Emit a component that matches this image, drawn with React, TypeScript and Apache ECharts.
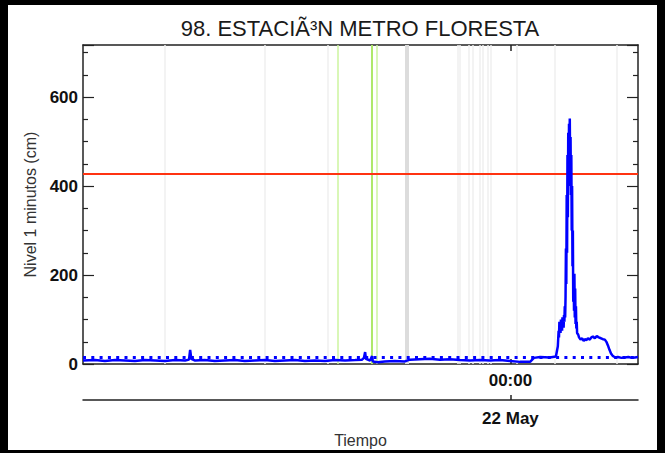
import React, { useEffect, useRef } from 'react';
import * as echarts from 'echarts';

const stationTitle = '98. ESTACIÃ³N METRO FLORESTA';
const yAxisTitle = 'Nivel 1 minutos (cm)';
const xAxisTitle = 'Tiempo';
const monthNames = ['Jan', 'Feb', 'Mar', 'Apr', 'May', 'Jun', 'Jul', 'Aug', 'Sep', 'Oct', 'Nov', 'Dec'];

// reference instant: 22 May 00:00 (all readings are minutes relative to it)
const referenceMidnight = Date.UTC(2024, 4, 22, 0, 0);
const windowMinutes = [-1109, 331];
const labelMinutes = [0];

const yMin = 0;
const yMax = 717;
const yStep = 200;
const alertLevel = 428.5;
const normalLevel = 16;

// [minute, level cm]
const baselineReadings: [number, number][] = [
  [-1109, 8], [-1078, 9], [-1052, 7], [-1026, 9], [-1000, 8], [-974, 7], [-948, 9], [-922, 8],
  [-896, 7], [-870, 9], [-844, 8], [-834, 10], [-831, 32], [-828, 12], [-818, 8], [-793, 9],
  [-767, 7], [-741, 8], [-715, 9], [-689, 7], [-663, 8], [-637, 9], [-611, 7], [-585, 8],
  [-559, 9], [-533, 7], [-507, 8], [-481, 7], [-455, 9], [-429, 8], [-403, 9], [-385, 10],
  [-380, 14], [-377, 27], [-375, 12], [-364, 8], [-359, 18], [-357, 6], [-344, 4], [-326, 6],
  [-300, 7], [-274, 6], [-261, 10], [-235, 11], [-209, 12], [-183, 10], [-157, 11], [-131, 9],
  [-105, 8], [-79, 9], [-53, 8], [-27, 9], [-1, 7], [25, 5], [51, 5], [61, 14], [77, 16],
  [102, 15], [118, 17],
];

const stormReadings: [number, number][] = [
  [123, 40], [125, 75], [126, 60], [127, 95], [128, 78], [129, 88], [130, 70], [131, 100],
  [132, 80], [133, 92], [134, 75], [135, 105], [136, 85], [137, 98], [138, 82], [139, 110],
  [140, 95], [141, 130], [142, 105], [143, 150], [144, 260], [145, 180], [146, 380], [147, 250],
  [148, 470], [149, 330], [150, 520], [151, 400], [152, 540], [153, 450], [154, 552], [155, 430],
  [156, 510], [157, 380], [158, 470], [159, 300], [160, 400], [161, 220], [162, 300], [163, 140],
  [164, 200], [165, 120], [166, 203], [167, 105], [168, 170], [169, 90], [170, 130], [171, 80],
  [172, 95], [173, 70], [176, 66], [178, 60], [182, 55], [186, 58], [190, 52], [193, 56],
  [197, 54], [201, 58], [206, 55], [210, 60], [214, 62], [219, 58], [224, 63], [229, 60],
  [235, 58], [240, 56], [245, 55], [249, 50], [253, 42], [257, 32], [261, 24], [265, 19],
  [268, 17], [272, 15], [279, 16], [288, 14], [297, 15], [306, 16], [315, 14], [323, 15],
  [331, 16],
];

const greyEventMinutes = [-898, -637, -474, -137, -131, -108, -97, -80, -73, -58, -51, 16, 115, 276];
const greenEventMinutes = [-447, -360, -347];
const darkEventMinutes = [-270];

const toTime = (m: number) => referenceMidnight + m * 60000;
const pad2 = (n: number) => String(n).padStart(2, '0');
const fmtClock = (m: number) => {
  const d = new Date(toTime(m));
  return pad2(d.getUTCHours()) + ':' + pad2(d.getUTCMinutes());
};
const fmtDay = (m: number) => {
  const d = new Date(toTime(m));
  return d.getUTCDate() + ' ' + monthNames[d.getUTCMonth()];
};

export default function App() {
  const ref = useRef<HTMLDivElement>(null);
  useEffect(() => {
    document.body.style.margin = '0';
    if (!ref.current) return;
    const chart = echarts.init(ref.current, undefined, { renderer: 'svg' });
    const font = 'Liberation Sans';
    const axisColor = '#222';
    const levelData = [...baselineReadings, ...stormReadings];

    const eventLines = [
      ...greyEventMinutes.map((m) => ({ xAxis: m, lineStyle: { color: '#efefef', width: 1.5, type: 'solid' } })),
      ...darkEventMinutes.map((m) => ({ xAxis: m, lineStyle: { color: '#dcdcdc', width: 4, type: 'solid' } })),
      ...greenEventMinutes.map((m, i) => ({
        xAxis: m,
        lineStyle: { color: i === 1 ? '#aee86a' : '#cdf59f', width: i === 1 ? 2 : 1.5, type: 'solid' },
      })),
    ];

    const baseX = {
      type: 'value',
      min: windowMinutes[0],
      max: windowMinutes[1],
      splitLine: { show: false },
      axisLine: { show: true, onZero: false, lineStyle: { color: axisColor, width: 1.5 } },
    };
    const baseY = {
      type: 'value',
      min: yMin,
      max: yMax,
      interval: yStep,
      splitLine: { show: false },
      axisLine: { show: true, onZero: false, lineStyle: { color: axisColor, width: 1.5 } },
      axisTick: { show: true, inside: true, length: 11, lineStyle: { color: axisColor, width: 1.2 } },
      minorTick: { show: true, splitNumber: 4, length: 5, lineStyle: { color: axisColor, width: 1.2 } },
    };
    const tickLabel = { fontSize: 17, color: '#111', fontFamily: font, fontWeight: 'bold' };

    chart.setOption({
      animation: false,
      backgroundColor: '#ffffff',
      grid: { left: 83, right: 27, top: 45, bottom: 86, containLabel: false },
      xAxis: [
        {
          ...baseX,
          position: 'bottom',
          axisTick: { show: true, inside: true, length: 5, customValues: labelMinutes, lineStyle: { color: axisColor, width: 1.5 } },
          axisLabel: { show: true, customValues: labelMinutes, formatter: fmtClock, ...tickLabel, margin: 8 },
        },
        {
          ...baseX,
          position: 'top',
          axisTick: { show: true, inside: true, length: 6, customValues: labelMinutes, lineStyle: { color: axisColor, width: 1.5 } },
          axisLabel: { show: false },
        },
        {
          ...baseX,
          position: 'bottom',
          offset: 36,
          axisTick: { show: true, inside: true, length: 5, customValues: labelMinutes, lineStyle: { color: axisColor, width: 1.5 } },
          axisLabel: { show: true, customValues: labelMinutes, formatter: fmtDay, ...tickLabel, margin: 10 },
          name: xAxisTitle,
          nameLocation: 'middle',
          nameGap: 27,
          nameTextStyle: { fontSize: 16, color: '#333', fontFamily: font },
        },
      ],
      yAxis: [
        {
          ...baseY,
          position: 'left',
          axisLabel: { show: true, ...tickLabel, margin: 5, showMaxLabel: false },
          name: yAxisTitle,
          nameLocation: 'middle',
          nameGap: 45,
          nameTextStyle: { fontSize: 16, color: '#333', fontFamily: font },
        },
        {
          ...baseY,
          position: 'right',
          axisLabel: { show: false },
        },
      ],
      series: [
        {
          type: 'line',
          data: [],
          silent: true,
          markLine: { symbol: ['none', 'none'], silent: true, label: { show: false }, data: eventLines },
        },
        {
          type: 'line',
          data: [],
          silent: true,
          markLine: {
            symbol: ['none', 'none'],
            silent: true,
            label: { show: false },
            data: [
              { yAxis: alertLevel, lineStyle: { color: '#ff3311', width: 2.2, type: 'solid' } },
              { yAxis: normalLevel, lineStyle: { color: '#0000ff', width: 3, type: [3, 5.3] } },
            ],
          },
        },
        {
          type: 'line',
          data: levelData,
          showSymbol: false,
          z: 10,
          lineStyle: { color: '#0000ff', width: 2.5 },
        },
      ],
      graphic: [
        {
          type: 'text',
          x: 360,
          y: 28,
          style: { text: stationTitle, fontSize: 22, fontFamily: font, fill: '#1a1a1a', align: 'center', verticalAlign: 'middle' },
        },
        { type: 'rect', shape: { x: 0, y: 0, width: 8, height: 453 }, style: { fill: '#000' } },
        { type: 'rect', shape: { x: 0, y: 0, width: 665, height: 5 }, style: { fill: '#000' } },
        { type: 'rect', shape: { x: 657, y: 0, width: 8, height: 453 }, style: { fill: '#000' } },
        { type: 'rect', shape: { x: 0, y: 450, width: 665, height: 3 }, style: { fill: '#000' } },
      ],
    });
    return () => chart.dispose();
  }, []);
  return <div ref={ref} style={{ width: 665, height: 453 }} />;
}
